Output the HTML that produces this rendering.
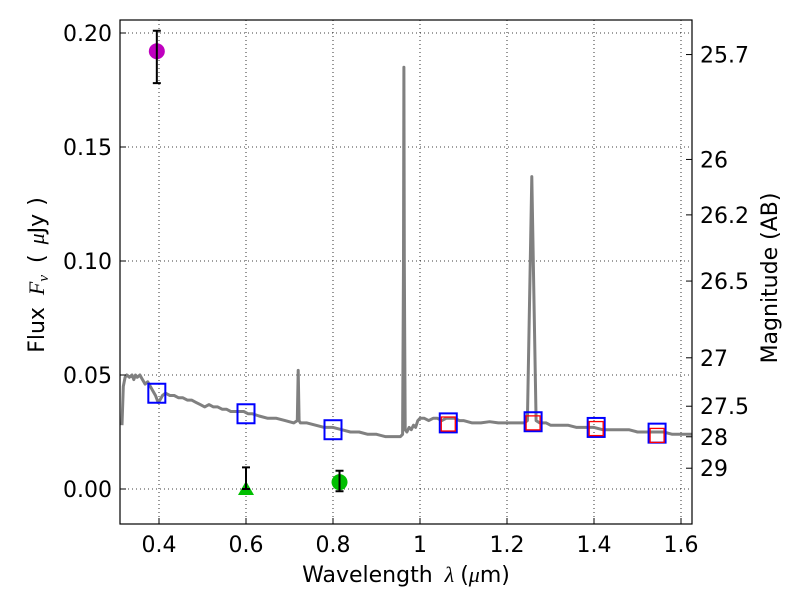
<!DOCTYPE html>
<html><head><meta charset="utf-8"><style>
body{margin:0;background:#fff;}
svg text{font-family:"DejaVu Sans","Liberation Sans",sans-serif;fill:#000;}
</style></head><body>
<svg id="chart" width="800" height="600" xmlns="http://www.w3.org/2000/svg">
<g id="grid"></g>
<g id="plot"></g>
<rect x="120" y="20" width="572" height="504" fill="none" stroke="#000" stroke-width="1.2"/>
<g id="axes"></g>
<text x="406" y="582" font-size="22" text-anchor="middle">Wavelength<tspan dx="12" font-style="italic" font-family="Liberation Serif">λ</tspan><tspan dx="6">(</tspan><tspan font-style="italic" font-family="Liberation Serif">μ</tspan>m)</text>
<text transform="translate(44,275) rotate(-90)" font-size="22" text-anchor="middle">Flux<tspan dx="12" font-style="italic" font-family="Liberation Serif">F<tspan font-size="15" dy="4">ν</tspan></tspan><tspan dy="-4" dx="12">(</tspan><tspan dx="10" font-style="italic" font-family="Liberation Serif">μ</tspan>Jy<tspan dx="8">)</tspan></text>
<text transform="translate(777,278) rotate(-90)" font-size="22" text-anchor="middle">Magnitude (AB)</text>
</svg>
<script>
const xTicks=[0.4,0.6,0.8,1.0,1.2,1.4,1.6];
const xTickLabels=["0.4","0.6","0.8","1","1.2","1.4","1.6"];
const yTicks=[0,0.05,0.10,0.15,0.20];
const yTickLabels=["0.00","0.05","0.10","0.15","0.20"];
const magTicks=[25.7,26,26.2,26.5,27,27.5,28,29];
const specX=[0.315,0.318,0.322,0.326,0.332,0.338,0.342,0.346,0.350,0.356,0.362,0.368,0.374,0.380,0.386,0.392,0.398,0.402,0.408,0.415,0.425,0.435,0.445,0.455,0.465,0.475,0.485,0.495,0.505,0.515,0.525,0.535,0.545,0.555,0.565,0.575,0.585,0.595,0.605,0.615,0.63,0.65,0.67,0.69,0.71,0.718,0.720,0.722,0.725,0.74,0.76,0.78,0.80,0.82,0.84,0.86,0.88,0.90,0.92,0.94,0.955,0.960,0.962,0.963,0.964,0.966,0.970,0.975,0.980,0.985,0.990,0.995,1.000,1.010,1.020,1.030,1.040,1.050,1.060,1.070,1.080,1.090,1.100,1.120,1.140,1.160,1.180,1.200,1.220,1.240,1.247,1.257,1.267,1.275,1.290,1.300,1.320,1.340,1.360,1.380,1.400,1.420,1.440,1.460,1.480,1.500,1.520,1.540,1.560,1.580,1.600,1.625];
const specY=[0.028,0.045,0.049,0.050,0.049,0.050,0.048,0.050,0.049,0.050,0.048,0.046,0.047,0.045,0.043,0.041,0.038,0.039,0.041,0.042,0.041,0.041,0.040,0.040,0.039,0.039,0.038,0.037,0.036,0.037,0.036,0.036,0.035,0.035,0.034,0.034,0.034,0.034,0.033,0.033,0.032,0.031,0.031,0.030,0.029,0.030,0.052,0.030,0.029,0.029,0.028,0.027,0.027,0.026,0.025,0.025,0.024,0.024,0.023,0.023,0.023,0.024,0.100,0.185,0.100,0.026,0.025,0.027,0.026,0.028,0.027,0.030,0.031,0.031,0.030,0.031,0.031,0.030,0.031,0.031,0.031,0.030,0.030,0.029,0.029,0.0295,0.029,0.029,0.029,0.029,0.030,0.137,0.030,0.029,0.029,0.028,0.028,0.028,0.027,0.027,0.027,0.026,0.026,0.026,0.026,0.025,0.025,0.025,0.025,0.024,0.024,0.024];
const bandX=[0.395,0.6,0.8,1.065,1.26,1.405,1.545];
const bandY=[0.042,0.033,0.026,0.029,0.0295,0.027,0.0245];
const redX=[1.065,1.26,1.405,1.545];
const redY=[0.0285,0.029,0.0265,0.0235];
const photX=[0.395,0.6,0.815];
const photY=[0.192,0.0,0.003];
const photLo=[0.178,0.0,-0.001];
const photHi=[0.201,0.0095,0.008];
const photColor=["#bf00bf","#00bf00","#00bf00"];
const photShape=["circle","triangle","circle"];

const sx=v=>159+(v-0.4)*435;
const sy=v=>489-v*2280;
const NS="http://www.w3.org/2000/svg";
function mk(t,a,p){const e=document.createElementNS(NS,t);for(const k in a)e.setAttribute(k,a[k]);p.appendChild(e);return e;}
const grid=document.getElementById('grid'),plot=document.getElementById('plot'),axes=document.getElementById('axes');
xTicks.forEach((v,i)=>{
 const x=sx(v);
 const g=mk('line',{x1:x,x2:x,y1:20,y2:524,stroke:'#000','stroke-width':0.8,'stroke-dasharray':'1,3'},grid);
 
 
 const t=mk('line',{x1:x,x2:x,y1:524,y2:518,stroke:'#000'},axes);
 
 
 const l=mk('text',{x:x,y:552,'font-size':22,'text-anchor':'middle'},axes);l.textContent=xTickLabels[i];
 
 
});
yTicks.forEach((v,i)=>{
 const y=sy(v);
 const g=mk('line',{x1:120,x2:692,y1:y,y2:y,stroke:'#000','stroke-width':0.8,'stroke-dasharray':'1,3'},grid);
 
 
 const t=mk('line',{x1:120,x2:126,y1:y,y2:y,stroke:'#000'},axes);
 
 
 const l=mk('text',{x:112,y:y+8,'font-size':22,'text-anchor':'end'},axes);l.textContent=yTickLabels[i];
 
 
});
magTicks.forEach(m=>{
 const y=sy(Math.pow(10,(23.9-m)/2.5));
 const t=mk('line',{x1:686,x2:692,y1:y,y2:y,stroke:'#000'},axes);
 
 
 const l=mk('text',{x:700,y:y+8,'font-size':22},axes);l.textContent=String(m);
 
 
});
const pts=specX.map((x,i)=>sx(x).toFixed(1)+','+sy(specY[i]).toFixed(1)).join(' ');
const sp=mk('polyline',{points:pts,fill:'none',stroke:'#808080','stroke-width':3,'stroke-linejoin':'round'},plot);


bandX.forEach((x,i)=>{
 const r=mk('rect',{x:sx(x)-8.5,y:sy(bandY[i])-9.5,width:17,height:19,fill:'none',stroke:'#0000ff','stroke-width':2},plot);
 
 
});
redX.forEach((x,i)=>{
 const r=mk('rect',{x:sx(x)-7,y:sy(redY[i])-7,width:14,height:14,fill:'none',stroke:'#ff0000','stroke-width':1.3},plot);
 
 
});
photX.forEach((x,i)=>{
 const cx=sx(x),cy=sy(photY[i]);
 let m;
 if(photShape[i]==='circle') m=mk('circle',{cx:cx,cy:cy,r:8,fill:photColor[i]},plot);
 else m=mk('polygon',{points:`${cx},${cy-8} ${cx-8},${cy+6} ${cx+8},${cy+6}`,fill:photColor[i]},plot);
 
 
 const lo=sy(photLo[i]),hi=sy(photHi[i]);
 const e=mk('path',{d:`M${cx},${lo}V${hi}M${cx-4},${lo}H${cx+4}M${cx-4},${hi}H${cx+4}`,stroke:'#000','stroke-width':2,fill:'none'},plot);
 
 
});
</script>
</body></html>
